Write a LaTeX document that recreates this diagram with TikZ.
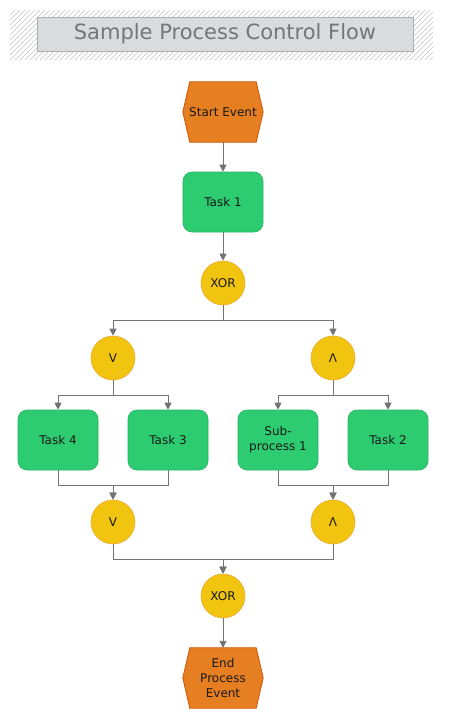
\documentclass[tikz,border=0pt]{standalone}
\usepackage{fontspec}
\setmainfont{DejaVu Sans}
\usetikzlibrary{arrows.meta,backgrounds}
\definecolor{evfill}{HTML}{E67E22}
\definecolor{evdraw}{HTML}{D35400}
\definecolor{taskfill}{HTML}{2ECC71}
\definecolor{taskdraw}{HTML}{27B563}
\definecolor{gatefill}{HTML}{F1C40F}
\definecolor{gatedraw}{HTML}{F0A830}
\definecolor{linec}{HTML}{737373}
\definecolor{titlefill}{HTML}{D5D8DC}
\definecolor{titledraw}{HTML}{AAB0B4}
\definecolor{titletext}{HTML}{757575}
\definecolor{hatchc}{HTML}{C4C4C4}
\begin{document}
\begin{tikzpicture}[x=1pt,y=-1pt,
  lbl/.style={font=\fontsize{12}{15}\selectfont, text=black!90, align=center, inner sep=0pt},
  evbox/.style={lbl, minimum width=80pt, minimum height=60pt},
  evshape/.style={fill=evfill, draw=evdraw, line width=0.8pt},
  taskbox/.style={lbl, rectangle, rounded corners=9pt, minimum width=80pt, minimum height=60pt, fill=taskfill, draw=taskdraw, line width=0.6pt},
  gate/.style={lbl, circle, minimum size=44pt, fill=gatefill, draw=gatedraw, line width=0.6pt},
  flow/.style={draw=linec, line width=0.9pt, -{Triangle[width=7pt,length=7pt]}},
  joinline/.style={draw=linec, line width=0.9pt},
  hatchline/.style={draw=hatchc, line width=0.5pt},
  titlebox/.style={draw=titledraw, fill=titlefill, fill opacity=0.85, text opacity=1, minimum width=376pt, minimum height=34pt, font=\fontsize{21}{25}\selectfont, text=titletext, inner sep=0pt}
]
\useasboundingbox (0,0) rectangle (450,720);
% title hatch
\begin{scope}
  \clip (10,10) rectangle (433,60);
  \foreach \i in {-50,-45,...,435} \draw[hatchline] (\i,60) -- ++(50,-50);
\end{scope}
\node[titlebox] (title) at (225,34) {Sample Process Control Flow};

\node[evbox] (start) at (223,112) {Start Event};
\node[taskbox] (t1) at (223,202) {Task 1};
\node[gate] (x1) at (223,283) {XOR};
\node[gate] (or1) at (113,358) {V};
\node[gate] (and1) at (333,358) {Λ};
\node[taskbox] (t4) at (58,440) {Task 4};
\node[taskbox] (t3) at (168,440) {Task 3};
\node[taskbox] (sp1) at (278,440) {Sub-\\process 1};
\node[taskbox] (t2) at (388,440) {Task 2};
\node[gate] (or2) at (113,522) {V};
\node[gate] (and2) at (333,522) {Λ};
\node[gate] (x2) at (223,596) {XOR};
\node[evbox] (end) at (223,678) {End\\Process\\Event};

\begin{scope}[on background layer]
  \fill[white] (0,0) rectangle (450,720);
  \foreach \n in {start,end}
    \draw[evshape] (\n.west) -- ([xshift=7pt]\n.north west) -- ([xshift=-7pt]\n.north east) -- (\n.east) -- ([xshift=-7pt]\n.south east) -- ([xshift=7pt]\n.south west) -- cycle;
\end{scope}

\draw[flow] (start) -- (t1);
\draw[flow] (t1) -- (x1);
\draw[flow] (x1.south) -- ++(0,15) -| (or1.north);
\draw[flow] (x1.south) -- ++(0,15) -| (and1.north);
\draw[flow] (or1.south) -- ++(0,15) -| (t4.north);
\draw[flow] (or1.south) -- ++(0,15) -| (t3.north);
\draw[flow] (and1.south) -- ++(0,15) -| (sp1.north);
\draw[flow] (and1.south) -- ++(0,15) -| (t2.north);
\draw[flow] (t4.south) -- ++(0,15) -| (or2.north);
\draw[flow] (t3.south) -- ++(0,15) -| (or2.north);
\draw[flow] (sp1.south) -- ++(0,15) -| (and2.north);
\draw[flow] (t2.south) -- ++(0,15) -| (and2.north);
\draw[flow] (or2.south) -- ++(0,15) -| (x2.north);
\draw[flow] (and2.south) -- ++(0,15) -| (x2.north);
\draw[flow] (x2) -- (end);
\end{tikzpicture}
\end{document}
